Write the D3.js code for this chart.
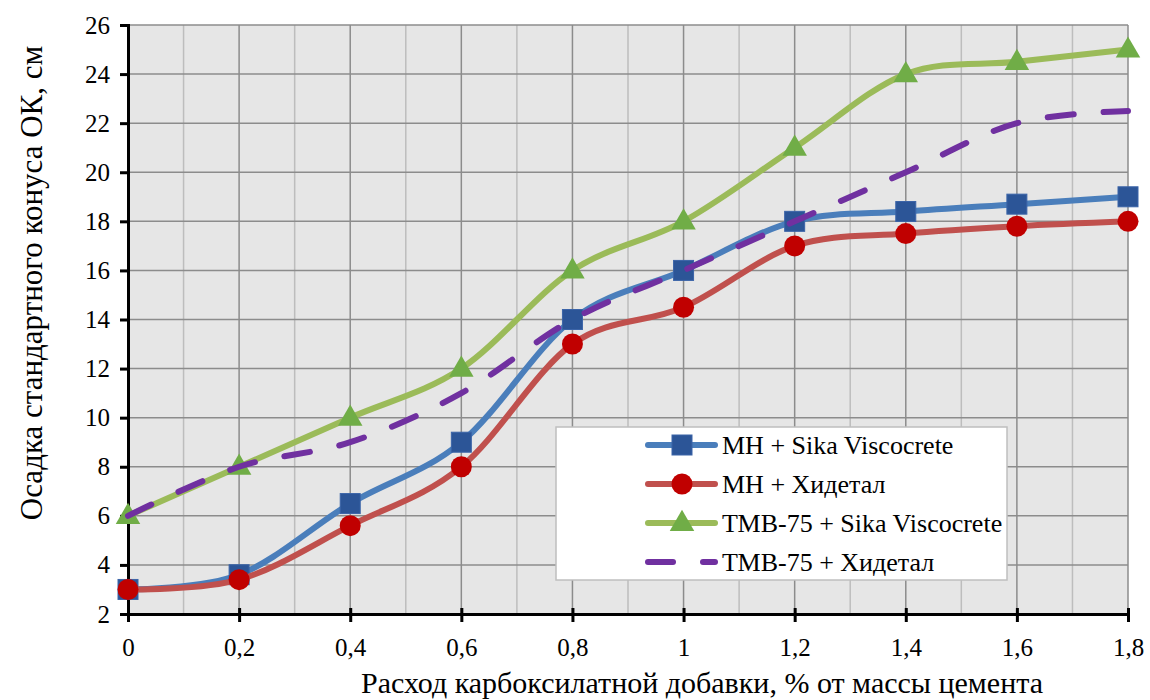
<!DOCTYPE html>
<html>
<head>
<meta charset="utf-8">
<script src="https://cdn.jsdelivr.net/npm/d3@7"></script>
<style>
  html, body { margin: 0; padding: 0; background: #fff; }
  svg { display: block; }
  svg text { font-family: 'Liberation Serif', 'DejaVu Serif', 'Noto Serif', serif; }
</style>
</head>
<body>
<svg id="chart" width="1150" height="700"></svg>
<script>
// Dosage of carboxylate admixture, % of cement mass
const dosage = [0, 0.2, 0.4, 0.6, 0.8, 1.0, 1.2, 1.4, 1.6, 1.8];

// Cone slump, cm
const mhSika     = [3, 3.6, 6.5, 9, 14, 16, 18, 18.4, 18.7, 19];
const mhHidetal  = [3, 3.4, 5.6, 8, 13, 14.5, 17, 17.5, 17.8, 18];
const tmbSika    = [6, 8, 10, 12, 16, 18, 21, 24, 24.5, 25];
const tmbHidetal = [6, 8, 9, 11, 14, 16, 18, 20, 22, 22.5];

const seriesNames = ["МН + Sika Viscocrete", "МН + Хидетал", "ТМВ-75 + Sika Viscocrete", "ТМВ-75 + Хидетал"];

const xTicks = [0, 0.2, 0.4, 0.6, 0.8, 1.0, 1.2, 1.4, 1.6, 1.8];
const yTicks = [2, 4, 6, 8, 10, 12, 14, 16, 18, 20, 22, 24, 26];

const xTitle = "Расход карбоксилатной добавки, % от массы цемента";
const yTitle = "Осадка стандартного конуса ОК, см";

const styles = [
  { line: "#4a7ebb", marker: "#2c5597", shape: "square", dash: null },
  { line: "#c0504d", marker: "#c00000", shape: "circle", dash: null },
  { line: "#9bbb59", marker: "#70ad47", shape: "triangle", dash: null },
  { line: "#7030a0", marker: null, shape: null, dash: "26,30" }
];
const values = [mhSika, mhHidetal, tmbSika, tmbHidetal];

const svg = d3.select("#chart");
const plotLeft = 128, plotRight = 1128, plotTop = 25, plotBottom = 614;

const x = d3.scaleLinear().domain([0, 1.8]).range([plotLeft, plotRight]);
const y = d3.scaleLinear().domain([2, 26]).range([plotBottom, plotTop]);

// plot background
svg.append("rect").attr("x", plotLeft).attr("y", plotTop)
  .attr("width", plotRight - plotLeft).attr("height", plotBottom - plotTop).attr("fill", "#e6e6e6");

// vertical grid: every 0.1, darker at 0.2
const vGrid = d3.range(1, 19).map(i => i / 10);
svg.append("g").selectAll("line").data(vGrid).join("line")
  .attr("x1", d => x(d)).attr("x2", d => x(d))
  .attr("y1", plotTop).attr("y2", plotBottom)
  .attr("stroke", (d, i) => (i % 2 === 1 ? "#8c8c8c" : "#bdbdbd"))
  .attr("stroke-width", 1.5);

// horizontal grid at each labelled value
svg.append("g").selectAll("line").data(yTicks.filter(v => v > 2)).join("line")
  .attr("x1", plotLeft).attr("x2", plotRight)
  .attr("y1", d => y(d)).attr("y2", d => y(d))
  .attr("stroke", "#8c8c8c").attr("stroke-width", 1.5);

// axes
const xAxis = d3.axisBottom(x).tickValues(xTicks).tickSize(8).tickPadding(16)
  .tickFormat(d => String(+d.toFixed(1)).replace(".", ","));
const gx = svg.append("g").attr("transform", `translate(0,${plotBottom})`).call(xAxis)
  .attr("font-family", null).attr("font-size", null);
gx.select(".domain").attr("stroke", "#000").attr("stroke-width", 3);
gx.selectAll(".tick line").attr("stroke", "#000").attr("stroke-width", 3).attr("y1", -6);
gx.selectAll(".tick text").attr("font-size", 25).attr("fill", "#000");

const yAxis = d3.axisLeft(y).tickValues(yTicks).tickSize(8).tickPadding(10).tickFormat(d3.format("d"));
const gy = svg.append("g").attr("transform", `translate(${plotLeft},0)`).call(yAxis)
  .attr("font-family", null).attr("font-size", null);
gy.select(".domain").attr("stroke", "#000").attr("stroke-width", 3);
gy.selectAll(".tick line").attr("stroke", "#000").attr("stroke-width", 3);
gy.selectAll(".tick text").attr("font-size", 25).attr("fill", "#000");

// marker drawing
function marker(g, shape, color, cx, cy) {
  if (shape === "square") {
    g.append("rect").attr("x", cx - 10).attr("y", cy - 10).attr("width", 20).attr("height", 20)
      .attr("fill", color).attr("stroke", "#3b64a8").attr("stroke-width", 1);
  } else if (shape === "circle") {
    g.append("circle").attr("cx", cx).attr("cy", cy).attr("r", 10.5).attr("fill", color);
  } else if (shape === "triangle") {
    g.append("path").attr("d", d3.symbol().type(d3.symbolTriangle).size(260)())
      .attr("transform", `translate(${cx},${cy + 1})`).attr("fill", color);
  }
}

const line = d3.line().x((d, i) => x(dosage[i])).y(d => y(d)).curve(d3.curveCatmullRom.alpha(0));

const plot = svg.append("g");
values.forEach((vals, k) => {
  const st = styles[k];
  const g = plot.append("g");
  g.append("path").datum(vals).attr("d", line)
    .attr("fill", "none").attr("stroke", st.line).attr("stroke-width", 6)
    .attr("stroke-linecap", "round").attr("stroke-linejoin", "round")
    .attr("stroke-dasharray", st.dash);
  if (st.shape) vals.forEach((v, i) => marker(g, st.shape, st.marker, x(dosage[i]), y(v)));
});

// legend
const lg = svg.append("g");
lg.append("rect").attr("x", 556).attr("y", 427).attr("width", 451).attr("height", 153)
  .attr("fill", "#fff").attr("stroke", "#bfbfbf").attr("stroke-width", 1.5);
const rowsY = [445, 484, 523, 562];
seriesNames.forEach((name, k) => {
  const st = styles[k];
  const cy = rowsY[k];
  if (st.dash) {
    lg.append("line").attr("x1", 648).attr("x2", 673).attr("y1", cy).attr("y2", cy)
      .attr("stroke", st.line).attr("stroke-width", 6).attr("stroke-linecap", "round");
    lg.append("line").attr("x1", 703).attr("x2", 715).attr("y1", cy).attr("y2", cy)
      .attr("stroke", st.line).attr("stroke-width", 6).attr("stroke-linecap", "round");
  } else {
    lg.append("line").attr("x1", 648).attr("x2", 715).attr("y1", cy).attr("y2", cy)
      .attr("stroke", st.line).attr("stroke-width", 6).attr("stroke-linecap", "round");
    marker(lg, st.shape, st.marker, 682, cy);
  }
  lg.append("text").attr("x", 722).attr("y", cy + 9).attr("font-size", 26).attr("fill", "#000")
    .text(name);
});

// axis titles
svg.append("text").attr("x", 702).attr("y", 693).attr("text-anchor", "middle")
  .attr("font-size", 30).attr("fill", "#000").text(xTitle);
svg.append("text").attr("transform", "translate(42,283) rotate(-90)")
  .attr("text-anchor", "middle").attr("font-size", 31).attr("fill", "#000").text(yTitle);
</script>
</body>
</html>
